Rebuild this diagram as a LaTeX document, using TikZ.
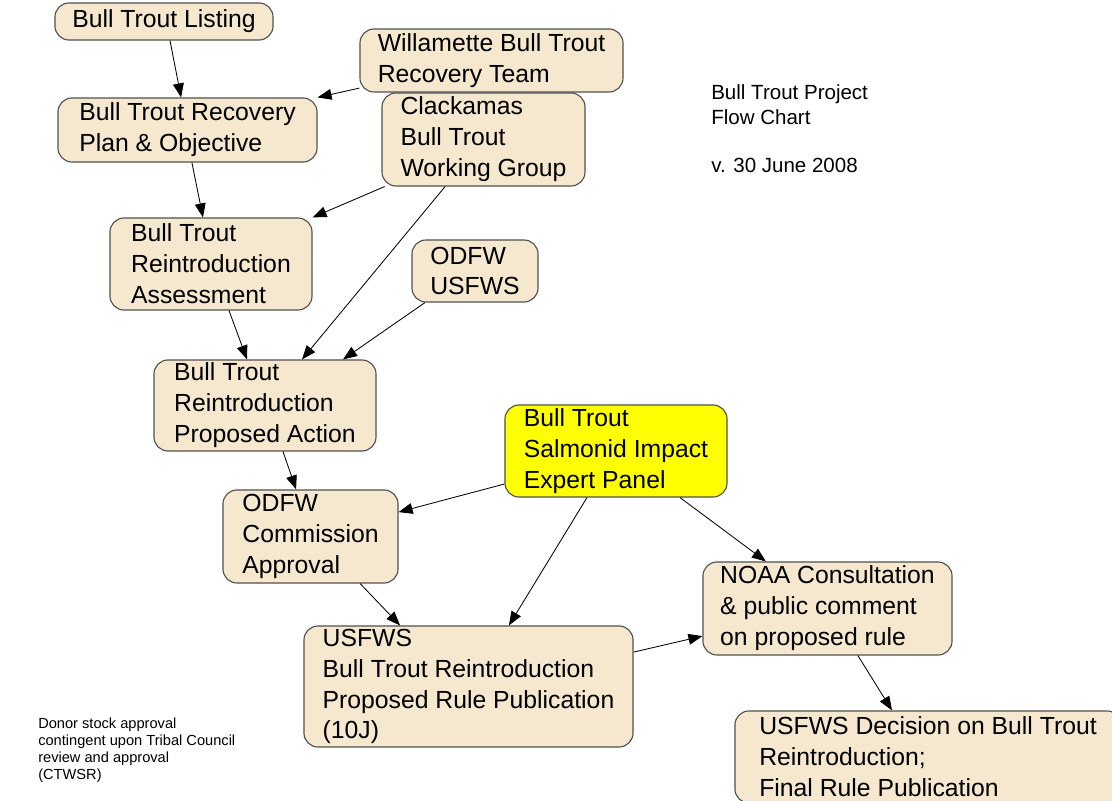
\documentclass[tikz,border=0pt]{standalone}
\usepackage{fontspec}
\setmainfont{Liberation Sans}
\usetikzlibrary{arrows.meta}

\definecolor{boxfill}{RGB}{245,232,206}
\definecolor{boxline}{RGB}{80,80,80}
\definecolor{panelfill}{RGB}{255,255,0}

\tikzset{
  stepbox/.style={rectangle,draw=boxline,fill=boxfill,line width=0.8pt,rounded corners=3.5mm,
    align=left,inner sep=0pt,font=\fontsize{17.6}{22}\selectfont},
  flow/.style={->,line width=0.6pt},
  >={Triangle[length=3.5mm,width=2.7mm]}
}

\begin{document}
\begin{tikzpicture}[x=0.025cm,y=-0.025cm]
    \useasboundingbox (0,0) rectangle (1112,801);

    \node[stepbox,minimum width=5.45cm,minimum height=0.925cm] (listing) at (164,21.5) {Bull Trout Listing};
    \node[stepbox,minimum width=6.575cm,minimum height=1.575cm] (team) at (491.5,60.5) {Willamette Bull Trout\\Recovery Team};
    \node[stepbox,minimum width=6.475cm,minimum height=1.6cm] (plan) at (187.5,130) {Bull Trout Recovery\\Plan \& Objective};
    \node[stepbox,minimum width=5.075cm,minimum height=2.325cm] (group) at (483.5,139.5) {Clackamas\\Bull Trout\\Working Group};
    \node[stepbox,minimum width=5.05cm,minimum height=2.3cm] (assess) at (211,264) {Bull Trout\\Reintroduction\\Assessment};
    \node[stepbox,minimum width=3.15cm,minimum height=1.55cm] (agencies) at (475,271) {ODFW\\USFWS};
    \node[stepbox,minimum width=5.55cm,minimum height=2.275cm] (action) at (265,405.5) {Bull Trout\\Reintroduction\\Proposed Action};
    \node[stepbox,fill=panelfill,minimum width=5.55cm,minimum height=2.3cm] (panel) at (616,451) {Bull Trout\\Salmonid Impact\\Expert Panel};
    \node[stepbox,minimum width=4.375cm,minimum height=2.325cm] (commission) at (310.5,536.5) {ODFW\\Commission\\Approval};
    \node[stepbox,minimum width=6.225cm,minimum height=2.325cm] (noaa) at (827.5,608.5) {NOAA Consultation\\\& public comment\\on proposed rule};
    \node[stepbox,minimum width=8.225cm,minimum height=3.025cm] (rule) at (468.5,686.5) {USFWS\\Bull Trout Reintroduction\\Proposed Rule Publication\\(10J)};
    \node[stepbox,minimum width=9.65cm,minimum height=2.3cm] (decision) at (928,757) {USFWS Decision on Bull Trout\\Reintroduction;\\Final Rule Publication};

    \node[align=left,inner sep=0pt,anchor=west,font=\fontsize{14.6}{17.8}\selectfont] (title) at (711,104.5) {Bull Trout Project\\Flow Chart};
    \node[align=left,inner sep=0pt,anchor=west,font=\fontsize{14.6}{17.8}\selectfont] (version) at (711,165) {v. 30 June 2008};
    \node[align=left,inner sep=0pt,anchor=west,font=\fontsize{10.4}{12.2}\selectfont] (note) at (38,750) {Donor stock approval\\contingent upon Tribal Council\\review and approval\\(CTWSR)};

    \draw[flow] ([xshift=1.5mm]listing.south) -- ([xshift=-1.6mm]plan.north);
    \draw[flow] ([yshift=-6.9mm]team.west) -- (plan.north east);
    \draw[flow] ([xshift=1.1mm]plan.south) -- ([xshift=-2mm]assess.north);
    \draw[flow] ([xshift=0.8mm]group.south west) -- (assess.north east);
    \draw[flow] ([xshift=-9.6mm]group.south) -- ([xshift=9.25mm]action.north);
    \draw[flow] ([xshift=4.5mm]assess.south) -- ([xshift=-4.5mm]action.north);
    \draw[flow] ([xshift=-12.5mm]agencies.south) -- ([xshift=19.5mm]action.north);
    \draw[flow] ([xshift=4.5mm]action.south) -- ([xshift=-3.6mm]commission.north);
    \draw[flow] ([yshift=-8.25mm]panel.west) -- ([yshift=6.1mm]commission.east);
    \draw[flow] ([xshift=12.4mm]commission.south) -- ([xshift=-17.1mm]rule.north);
    \draw[flow] ([xshift=-7.25mm]panel.south) -- ([xshift=10.1mm]rule.north);
    \draw[flow] ([xshift=16mm]panel.south) -- ([xshift=-15.4mm]noaa.north);
    \draw[flow] ([yshift=8.6mm]rule.east) -- ([yshift=-6.9mm]noaa.west);
    \draw[flow] ([xshift=7.6mm]noaa.south) -- ([xshift=-9mm]decision.north);
\end{tikzpicture}
\end{document}
